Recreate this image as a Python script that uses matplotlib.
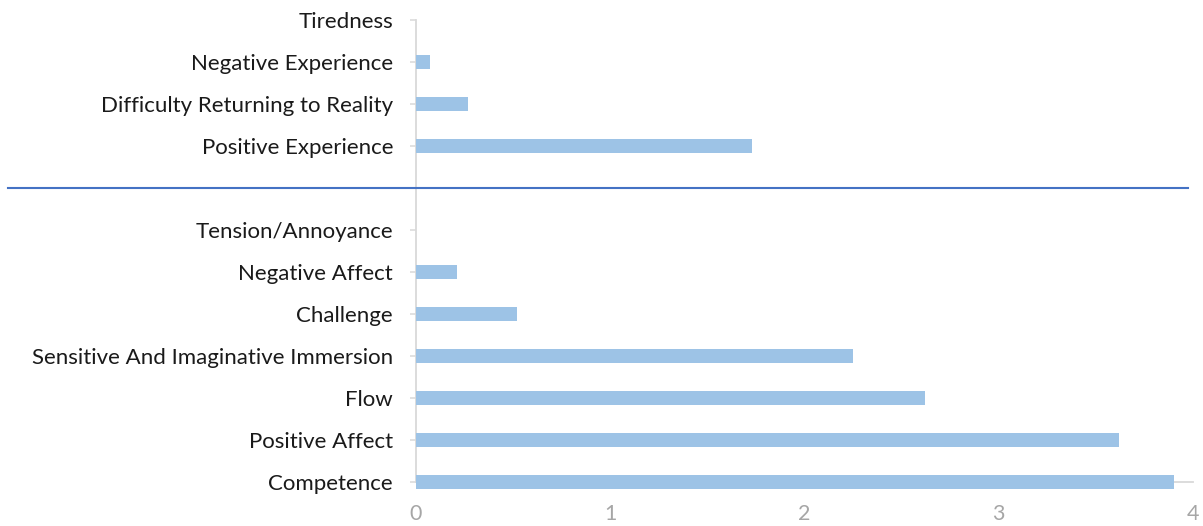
import matplotlib.pyplot as plt
from matplotlib.transforms import blended_transform_factory

categories = ["Competence", "Positive Affect", "Flow",
              "Sensitive And Imaginative Immersion", "Challenge",
              "Negative Affect", "Tension/Annoyance", "",
              "Positive Experience", "Difficulty Returning to Reality",
              "Negative Experience", "Tiredness"]
values = [3.90, 3.62, 2.62, 2.25, 0.52, 0.21, 0.0, 0.0,
          1.73, 0.27, 0.07, 0.0]
xticks = [0, 1, 2, 3, 4]
separator_slot = 7

plt.rcParams['font.family'] = ['Lato', 'DejaVu Sans']

fig = plt.figure(figsize=(12.03, 5.26), dpi=100)
ax = fig.add_axes([416 / 1203, 44 / 526, 777 / 1203, 462 / 526])

pos = list(range(len(categories)))
ax.barh(pos, values, height=0.32, color='#9DC3E6', clip_on=False, zorder=3)

ax.set_xlim(0, 4)
ax.set_ylim(0, 11)
ax.set_xticks(xticks)
ax.set_xticklabels([str(t) for t in xticks])
ax.set_yticks(pos)
ax.set_yticklabels(categories)

for s in ['top', 'right']:
    ax.spines[s].set_visible(False)
for s in ['left', 'bottom']:
    ax.spines[s].set_color('#D9D9D9')
    ax.spines[s].set_linewidth(1.3)

ax.tick_params(axis='y', length=4.5, width=1.1, color='#D9D9D9',
               pad=12, labelsize=16, labelcolor='#1a1a1a')
ax.tick_params(axis='x', length=0, pad=16, labelsize=15.5,
               labelcolor='#A6A6A6')

# divider between the two groups, running across the labels too
tr = blended_transform_factory(fig.transFigure, ax.transData)
ax.plot([8 / 1203, 1188 / 1203], [separator_slot, separator_slot],
        transform=tr, color='#4472C4', lw=1.5, clip_on=False, zorder=4)

fig.savefig('out.png', dpi=100)
